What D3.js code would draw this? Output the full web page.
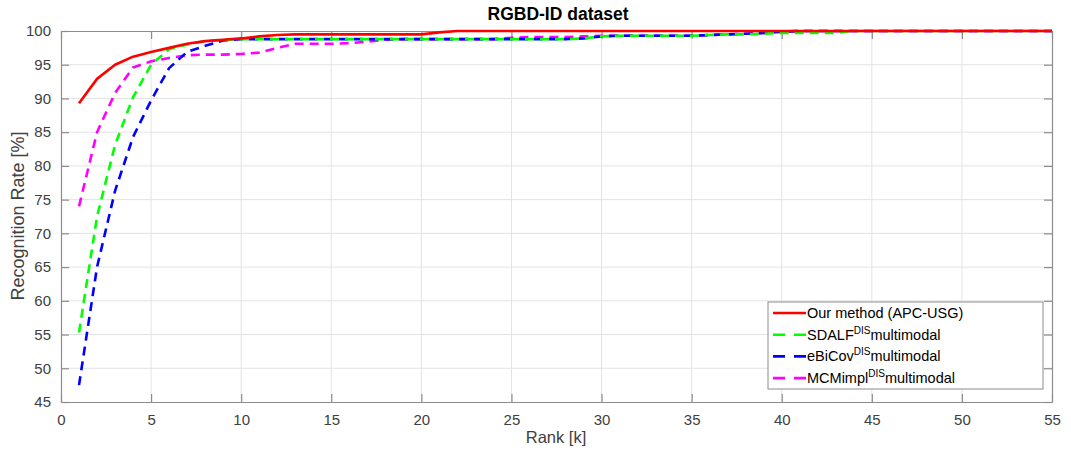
<!DOCTYPE html>
<html>
<head>
<meta charset="utf-8">
<script src="https://cdn.jsdelivr.net/npm/d3@7"></script>
<style>
  body { margin: 0; background: #fff; }
  text { font-family: "Liberation Sans", Arial, sans-serif; }
</style>
</head>
<body>
<svg id="chart" width="1071" height="450"></svg>
<script>
// Rank values and recognition rates (%) for each method
const ranks = d3.range(1, 56);

const ourMethod = [89.3, 92.9, 95.0, 96.2, 96.9, 97.5, 98.1, 98.5, 98.7, 98.9,
  99.2, 99.4, 99.5, 99.5, 99.5, 99.5, 99.5, 99.5, 99.5, 99.5,
  99.8, 100, 100, 100, 100, 100, 100, 100, 100, 100,
  100, 100, 100, 100, 100, 100, 100, 100, 100, 100,
  100, 100, 100, 100, 100, 100, 100, 100, 100, 100,
  100, 100, 100, 100, 100];

const sdalf = [55.3, 72.5, 83.1, 90.2, 95.0, 97.3, 98.0, 98.5, 98.7, 98.8,
  98.8, 98.8, 98.8, 98.8, 98.8, 98.8, 98.8, 98.8, 98.8, 98.8,
  98.8, 98.8, 98.8, 98.8, 98.8, 98.8, 98.8, 98.8, 98.9, 99.2,
  99.3, 99.3, 99.3, 99.3, 99.3, 99.4, 99.5, 99.5, 99.6, 99.7,
  99.7, 99.7, 99.7, 100, 100, 100, 100, 100, 100, 100,
  100, 100, 100, 100, 100];

const ebicov = [47.5, 65.0, 76.3, 84.3, 89.7, 94.5, 96.9, 97.8, 98.6, 98.8,
  98.8, 98.8, 98.8, 98.8, 98.8, 98.8, 98.8, 98.8, 98.8, 98.8,
  98.8, 98.8, 98.8, 98.8, 98.8, 98.8, 98.8, 98.8, 98.9, 99.2,
  99.3, 99.3, 99.3, 99.3, 99.3, 99.4, 99.5, 99.6, 99.7, 99.9,
  100, 100, 100, 100, 100, 100, 100, 100, 100, 100,
  100, 100, 100, 100, 100];

const mcmimpl = [74.0, 85.0, 90.8, 94.6, 95.5, 96.0, 96.4, 96.5, 96.5, 96.6,
  96.8, 97.5, 98.1, 98.1, 98.1, 98.2, 98.4, 98.7, 98.8, 98.8,
  98.8, 98.8, 98.8, 98.8, 99.0, 99.1, 99.1, 99.1, 99.2, 99.3,
  99.3, 99.3, 99.3, 99.3, 99.3, 99.4, 99.5, 99.6, 99.7, 99.9,
  100, 100, 100, 100, 100, 100, 100, 100, 100, 100,
  100, 100, 100, 100, 100];

const xTicks = d3.range(0, 56, 5);
const yTicks = d3.range(45, 101, 5);

const series = [
  { name: "Our method (APC-USG)", sup: null, values: ourMethod, color: "#ff0000", dash: null },
  { name: "SDALF", sup: "DIS", suffix: "multimodal", values: sdalf, color: "#00ff00", dash: "9,6" },
  { name: "eBiCov", sup: "DIS", suffix: "multimodal", values: ebicov, color: "#0000ff", dash: "9,6" },
  { name: "MCMimpl", sup: "DIS", suffix: "multimodal", values: mcmimpl, color: "#ff00ff", dash: "9,6" }
];

const svg = d3.select("#chart");
const plotL = 61, plotR = 1052, plotT = 31, plotB = 402;

const x = d3.scaleLinear().domain([0, 55]).range([plotL, plotR]);
const y = d3.scaleLinear().domain([45, 100]).range([plotB, plotT]);

const axisColor = "#8c8c8c";
const textColor = "#404040";

// grid
const grid = svg.append("g");
grid.selectAll(".gx").data(xTicks.slice(1, -1)).join("line")
  .attr("x1", d => x(d)).attr("x2", d => x(d))
  .attr("y1", plotT).attr("y2", plotB)
  .attr("stroke", "#e3e3e3").attr("stroke-width", 1);
grid.selectAll(".gy").data(yTicks.slice(1, -1)).join("line")
  .attr("x1", plotL).attr("x2", plotR)
  .attr("y1", d => y(d)).attr("y2", d => y(d))
  .attr("stroke", "#e3e3e3").attr("stroke-width", 1);

// axes with inward ticks
const xAxis = d3.axisBottom(x).tickValues(xTicks).tickSizeInner(-8).tickSizeOuter(0).tickPadding(12);
const yAxis = d3.axisLeft(y).tickValues(yTicks).tickSizeInner(-8).tickSizeOuter(0).tickPadding(10);

const gx = svg.append("g").attr("transform", `translate(0,${plotB})`).call(xAxis);
const gy = svg.append("g").attr("transform", `translate(${plotL},0)`).call(yAxis);
const gxTop = svg.append("g").attr("transform", `translate(0,${plotT})`)
  .call(d3.axisTop(x).tickValues(xTicks).tickSizeInner(-8).tickSizeOuter(0).tickFormat(""));
const gyRight = svg.append("g").attr("transform", `translate(${plotR},0)`)
  .call(d3.axisRight(y).tickValues(yTicks).tickSizeInner(-8).tickSizeOuter(0).tickFormat(""));

[gx, gy, gxTop, gyRight].forEach(g => {
  g.select(".domain").attr("stroke", axisColor).attr("stroke-width", 1.2);
  g.selectAll(".tick line").attr("stroke", axisColor).attr("stroke-width", 1.2);
  g.selectAll(".tick text").attr("fill", textColor)
    .style("font-family", "'Liberation Sans', Arial, sans-serif").style("font-size", "15px");
});

// lines
const line = d3.line().x((d, i) => x(ranks[i])).y(d => y(d));
const plot = svg.append("g");
series.slice().reverse().forEach(s => {
  plot.append("path")
    .datum(s.values)
    .attr("d", line)
    .attr("fill", "none")
    .attr("stroke", s.color)
    .attr("stroke-width", 2.6)
    .attr("stroke-linejoin", "round")
    .attr("stroke-dasharray", s.dash);
});

// title and axis labels
svg.append("text").attr("x", 558).attr("y", 20).attr("text-anchor", "middle")
  .style("font-size", "17.5px").style("font-weight", "bold").attr("fill", "#000")
  .text("RGBD-ID dataset");
svg.append("text").attr("x", 556).attr("y", 443).attr("text-anchor", "middle")
  .style("font-size", "16.5px").attr("fill", textColor).text("Rank [k]");
svg.append("text").attr("transform", `translate(24,216) rotate(-90)`).attr("text-anchor", "middle")
  .style("font-size", "18px").attr("fill", textColor).text("Recognition Rate [%]");

// legend
const lg = svg.append("g");
lg.append("rect").attr("x", 768).attr("y", 302).attr("width", 275).attr("height", 87)
  .attr("fill", "#fff").attr("stroke", axisColor).attr("stroke-width", 1);
series.forEach((s, i) => {
  const ly = 313 + i * 21.7;
  lg.append("line").attr("x1", 773).attr("x2", 806).attr("y1", ly).attr("y2", ly)
    .attr("stroke", s.color).attr("stroke-width", 2.6)
    .attr("stroke-dasharray", s.dash ? "12,9" : null);
  const t = lg.append("text").attr("x", 807).attr("y", ly + 5)
    .style("font-size", "14.5px").attr("fill", "#000");
  t.append("tspan").text(s.name);
  if (s.sup) {
    t.append("tspan").attr("dy", -6).style("font-size", "10px").text(s.sup);
    t.append("tspan").attr("dy", 6).text(s.suffix);
  }
});
</script>
</body>
</html>
